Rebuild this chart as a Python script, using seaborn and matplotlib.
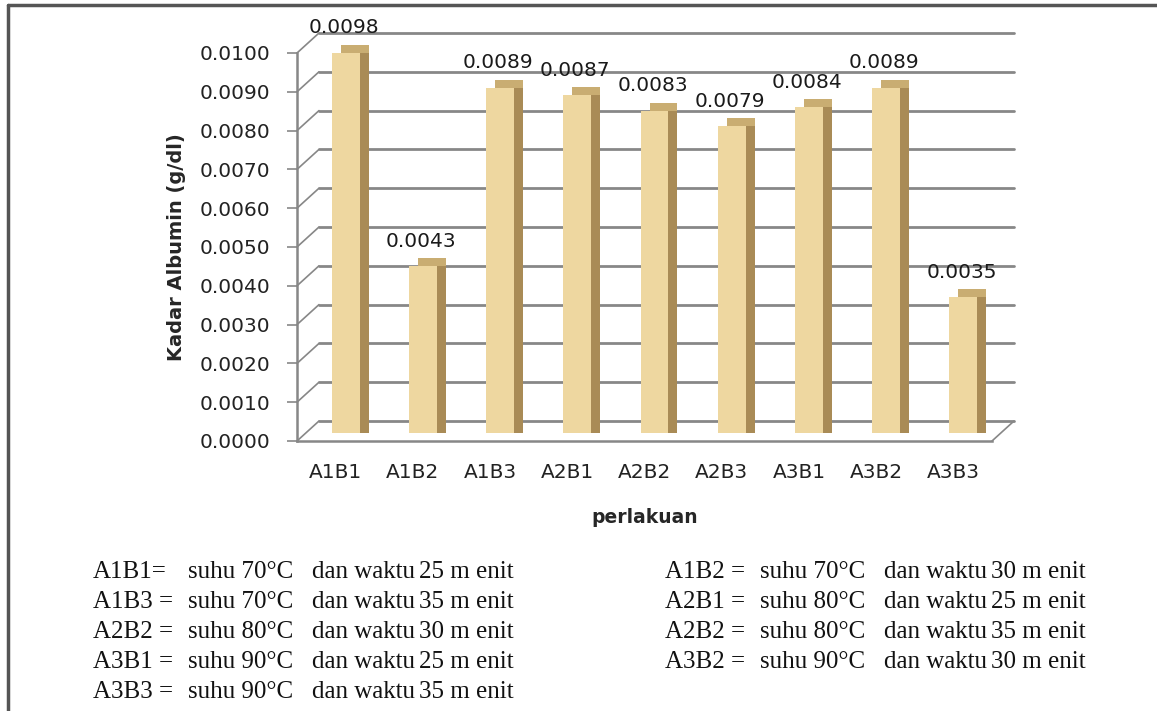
from __future__ import annotations

import matplotlib
matplotlib.use('Agg')
import matplotlib.pyplot as plt
import pandas as pd
import seaborn as sns
from matplotlib.lines import Line2D
from matplotlib.patches import Rectangle
from matplotlib.transforms import offset_copy

categories = ['A1B1', 'A1B2', 'A1B3', 'A2B1', 'A2B2', 'A2B3', 'A3B1', 'A3B2', 'A3B3']
kadar = [0.0098, 0.0043, 0.0089, 0.0087, 0.0083, 0.0079, 0.0084, 0.0089, 0.0035]
y_ticks = [0.0, 0.001, 0.002, 0.003, 0.004, 0.005, 0.006, 0.007, 0.008, 0.009, 0.010]
# treatment notes: code, temperature, time
notes_left = [
    ('A1B1=', '70', '25'),
    ('A1B3 =', '70', '35'),
    ('A2B2 =', '80', '30'),
    ('A3B1 =', '90', '25'),
    ('A3B3 =', '90', '35'),
]
notes_right = [
    ('A1B2 =', '70', '30'),
    ('A2B1 =', '80', '25'),
    ('A2B2 =', '80', '35'),
    ('A3B2 =', '90', '30'),
]

FRONT = '#EED7A0'
TOP = '#C9AD72'
SIDE = '#A98B56'
GRID = '#878787'
BACK = (22, 20)      # depth of the back wall, pixels
BAR_SHIFT = (10, 8)  # bars sit half way in the depth
BAR_DEPTH = (9, 8)


def draw_note(fig, x0: float, y0: float, note: tuple[str, str, str]) -> None:
    """Writes one line of the treatment notes, piece by piece."""
    code, temp, time = note
    pieces = [code, f'suhu {temp}°C', 'dan waktu', f'{time} m enit']
    offsets = [0, 95, 219, 326]
    for piece, dx in zip(pieces, offsets):
        fig.text((x0 + dx) / 1157, 1 - y0 / 711, piece, family='Liberation Serif',
                 fontsize=18, va='center', ha='left', color='#111111')


def main() -> None:
    """Main function of this script."""
    sns.set_style('white')
    plt.rcParams['font.family'] = ['DejaVu Sans']
    data = pd.DataFrame({'perlakuan': categories, 'kadar': kadar})

    fig = plt.figure(figsize=(11.57, 7.11), dpi=100)
    ax = fig.add_axes([297 / 1157, 1 - 441 / 711, 695 / 1157, 388 / 711])

    sns.barplot(ax=ax, data=data, x='perlakuan', y='kadar', color=FRONT,
                width=0.36, saturation=1, zorder=3)
    ax.set_xlim(-0.5, 8.5)
    ax.set_ylim(0, 0.0100)

    # shift bars into the depth and give them a top and a darker side
    front_tr = offset_copy(ax.transData, fig=fig, x=BAR_SHIFT[0], y=BAR_SHIFT[1], units='dots')
    top_tr = offset_copy(ax.transData, fig=fig, x=BAR_SHIFT[0] + BAR_DEPTH[0],
                         y=BAR_SHIFT[1] + BAR_DEPTH[1], units='dots')
    side_tr = offset_copy(ax.transData, fig=fig, x=BAR_SHIFT[0] + BAR_DEPTH[0],
                          y=BAR_SHIFT[1], units='dots')
    for patch in list(ax.patches):
        patch.set_transform(front_tr)
        patch.set_clip_on(False)
        patch.set_edgecolor('none')
        for tr, col, z in [(top_tr, TOP, 2.0), (side_tr, SIDE, 2.5)]:
            ax.add_patch(Rectangle(patch.get_xy(), patch.get_width(), patch.get_height(),
                                   transform=tr, facecolor=col, edgecolor='none',
                                   zorder=z, clip_on=False))

    # back wall grid and the diagonals to the front axis
    back_tr = offset_copy(ax.transData, fig=fig, x=BACK[0], y=BACK[1], units='dots')
    for v in y_ticks:
        ax.plot([-0.5, 8.5], [v, v], color=GRID, lw=2.0, transform=back_tr,
                zorder=1, clip_on=False)
        ax.annotate('', xy=(-0.5, v), xytext=BACK, textcoords='offset pixels',
                    arrowprops=dict(arrowstyle='-', color=GRID, lw=1.2,
                                    shrinkA=0, shrinkB=0), zorder=1)
    ax.annotate('', xy=(8.5, 0), xytext=BACK, textcoords='offset pixels',
                arrowprops=dict(arrowstyle='-', color=GRID, lw=1.2,
                                shrinkA=0, shrinkB=0), zorder=1)

    # value labels
    for i, v in enumerate(kadar):
        ax.annotate(f'{v:.4f}', xy=(i, v), xytext=(BAR_SHIFT[0] - 2, BAR_SHIFT[1] + 25),
                    textcoords='offset pixels', ha='center', va='center',
                    fontsize=14.5, color='#1a1a1a', zorder=5)

    # axes styling
    sns.despine(ax=ax, top=True, right=True)
    for side_name in ['left', 'bottom']:
        ax.spines[side_name].set_color(GRID)
        ax.spines[side_name].set_linewidth(1.8)
    ax.set_yticks(y_ticks)
    ax.set_yticklabels([f'{v:.4f}' for v in y_ticks])
    ax.tick_params(axis='y', left=True, length=7, width=1.2, color=GRID,
                   pad=12, labelsize=14.5, labelcolor='#222222')
    ax.tick_params(axis='x', bottom=False, pad=12, labelsize=14.5, labelcolor='#222222')
    ax.set_ylabel('Kadar Albumin (g/dl)', fontsize=14, fontweight='bold', labelpad=10)
    ax.set_xlabel('perlakuan', fontsize=13.5, fontweight='bold', labelpad=19)

    # treatment notes below the chart
    for k, note in enumerate(notes_left):
        draw_note(fig, 93, 572 + 30 * k, note)
    for k, note in enumerate(notes_right):
        draw_note(fig, 665, 572 + 30 * k, note)

    # frame of the original figure
    fig.add_artist(Line2D([8 / 1157, 1], [1 - 5 / 711, 1 - 5 / 711], color='#555555', lw=2.5))
    fig.add_artist(Line2D([8 / 1157, 8 / 1157], [0, 1 - 5 / 711], color='#555555', lw=2.5))

    fig.savefig('out.png', dpi=100)


if __name__ == '__main__':
    main()
